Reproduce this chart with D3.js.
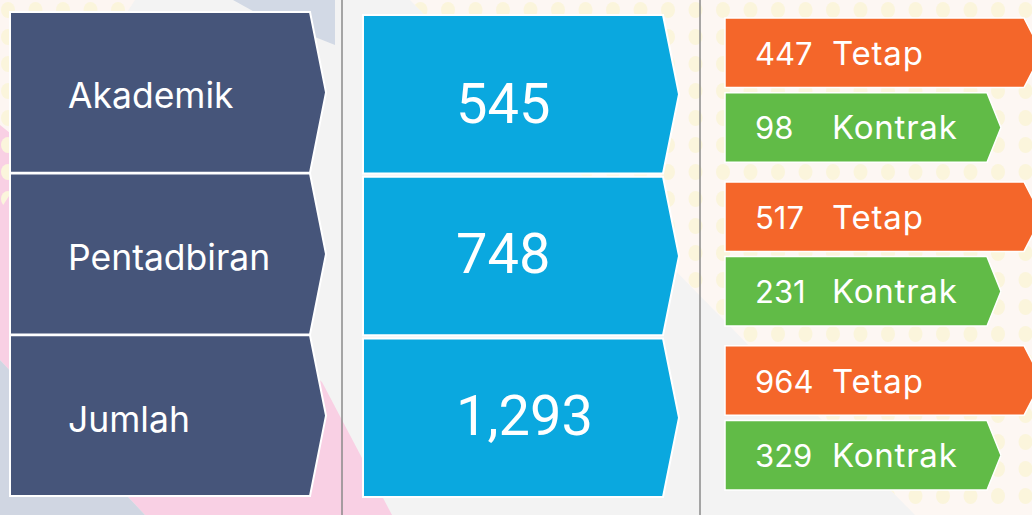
<!DOCTYPE html>
<html>
<head>
<meta charset="utf-8">
<script src="https://cdn.jsdelivr.net/npm/d3@7"></script>
<style>
  body { margin: 0; background: #f3f3f3; }
  svg { display: block; }
</style>
</head>
<body>
<div id="chart"></div>
<script>
// Staff numbers by category
const categories = ['Akademik', 'Pentadbiran', 'Jumlah'];
const totals = [545, 748, 1293];
const tetap = [447, 517, 964];
const kontrak = [98, 231, 329];
const statusLabels = ['Tetap', 'Kontrak'];

const width = 1032;
const height = 515;

const svg = d3.select('#chart')
  .append('svg')
  .attr('width', width)
  .attr('height', height);

// ==== Background decoration ====
const bg = svg.append('g');
bg.append('rect').attr('width', width).attr('height', height).attr('fill', '#f3f3f3');

const line = d3.line();
const creamRight = [[410, 0], [1032, 0], [1032, 515], [915, 515]];
const creamLeft = [[0, 0], [135, 0], [0, 210]];

bg.append('path').attr('d', line(creamRight) + 'Z').attr('fill', '#fdf7f3');
bg.append('path').attr('d', line(creamLeft) + 'Z').attr('fill', '#fdf6f2');
bg.append('path').attr('d', line([[233, 0], [335, 0], [335, 45], [262, 16]]) + 'Z').attr('fill', '#d2d9e5');
bg.append('path').attr('d', line([[0, 125], [0, 360], [145, 515], [392, 515], [322, 382]]) + 'Z').attr('fill', '#f9d0e4');
bg.append('path').attr('d', line([[0, 360], [145, 515], [0, 515]]) + 'Z').attr('fill', '#d0d6e2');

// Yellow dot grid, clipped to the cream areas
const defs = svg.append('defs');
const clip = defs.append('clipPath').attr('id', 'cream-clip');
clip.append('path').attr('d', line(creamRight) + 'Z');
clip.append('path').attr('d', line(creamLeft) + 'Z');

const dotX = d3.range(8, width, 27.5);
const dotY = d3.range(10, height, 27);
bg.append('g')
  .attr('clip-path', 'url(#cream-clip)')
  .selectAll('ellipse')
    .data(d3.cross(dotX, dotY))
  .join('ellipse')
    .attr('cx', d => d[0])
    .attr('cy', d => d[1])
    .attr('rx', 7)
    .attr('ry', 8)
    .attr('fill', '#fbf5dc');

// Column dividers
svg.append('g')
  .selectAll('line')
    .data([342, 700])
  .join('line')
    .attr('x1', d => d).attr('x2', d => d)
    .attr('y1', 0).attr('y2', height)
    .attr('stroke', '#8a8a8a')
    .attr('stroke-width', 1.5);

// Arrow-shaped box: flat left side, pointed right side
function arrow(x0, x1, tip, y0, y1) {
  return `M${x0},${y0}H${x1}L${tip},${(y0 + y1) / 2}L${x1},${y1}H${x0}Z`;
}

// ==== Left column: category names ====
const yLeft = d3.scaleBand()
  .domain(categories)
  .range([12, 496])
  .paddingInner(0.005);

const left = svg.append('g');
left.selectAll('path')
    .data(categories)
  .join('path')
    .attr('d', d => arrow(10, 310, 326, yLeft(d), yLeft(d) + yLeft.bandwidth()))
    .attr('fill', '#46557a')
    .attr('stroke', '#fff')
    .attr('stroke-width', 2);

left.selectAll('text')
    .data(categories)
  .join('text')
    .attr('x', 68)
    .attr('y', d => yLeft(d) + yLeft.bandwidth() / 2 + 16)
    .attr('fill', '#fff')
    .style('font', '400 35.5px Inter, "Noto Sans", sans-serif')
    .text(d => d);

// ==== Middle column: totals ====
const yMid = d3.scaleBand()
  .domain(categories)
  .range([15, 497])
  .paddingInner(0.02);

// Small per-row text tweak so the numbers sit where the original has them
const numShift = [9, -3, -3];

const mid = svg.append('g');
mid.selectAll('path')
    .data(categories)
  .join('path')
    .attr('d', d => arrow(363, 663, 679, yMid(d), yMid(d) + yMid.bandwidth()))
    .attr('fill', '#0aa8df')
    .attr('stroke', '#fff')
    .attr('stroke-width', 2);

mid.selectAll('text')
    .data(totals)
  .join('text')
    .attr('x', 456)
    .attr('y', (d, i) => yMid(categories[i]) + yMid.bandwidth() / 2 + 20 + numShift[i])
    .attr('fill', '#fff')
    .style('font', '400 56px Roboto, "Noto Sans", sans-serif')
    .text(d => d3.format(',')(d));

// ==== Right column: Tetap / Kontrak split ====
const yGroup = d3.scaleBand()
  .domain(categories)
  .range([18, 490])
  .paddingInner(0.12);

const ySub = d3.scaleBand()
  .domain(statusLabels)
  .range([0, yGroup.bandwidth()])
  .paddingInner(0.07);

const statusColor = d3.scaleOrdinal()
  .domain(statusLabels)
  .range(['#f4662a', '#61bb47']);

// Right edge and arrow tip per status
const statusEnd = { Tetap: [1024, 1042], Kontrak: [987, 1001] };

const splits = categories.flatMap((c, i) => [
  { category: c, status: 'Tetap', value: tetap[i] },
  { category: c, status: 'Kontrak', value: kontrak[i] },
]);

const right = svg.append('g');
const item = right.selectAll('g')
    .data(splits)
  .join('g')
    .attr('transform', d => `translate(0,${yGroup(d.category) + ySub(d.status)})`);

item.append('path')
  .attr('d', d => arrow(725, statusEnd[d.status][0], statusEnd[d.status][1], 0, ySub.bandwidth()))
  .attr('fill', d => statusColor(d.status))
  .attr('stroke', '#fff')
  .attr('stroke-width', 1.5);

item.append('text')
  .attr('x', 755)
  .attr('y', ySub.bandwidth() / 2 + 12)
  .attr('fill', '#fff')
  .style('font', '400 31px Inter, "Noto Sans", sans-serif')
  .text(d => d.value);

item.append('text')
  .attr('x', 832)
  .attr('y', ySub.bandwidth() / 2 + 12)
  .attr('fill', '#fff')
  .style('font', '400 33px Inter, "Noto Sans", sans-serif')
  .style('letter-spacing', '0.8px')
  .text(d => d.status);
</script>
</body>
</html>
